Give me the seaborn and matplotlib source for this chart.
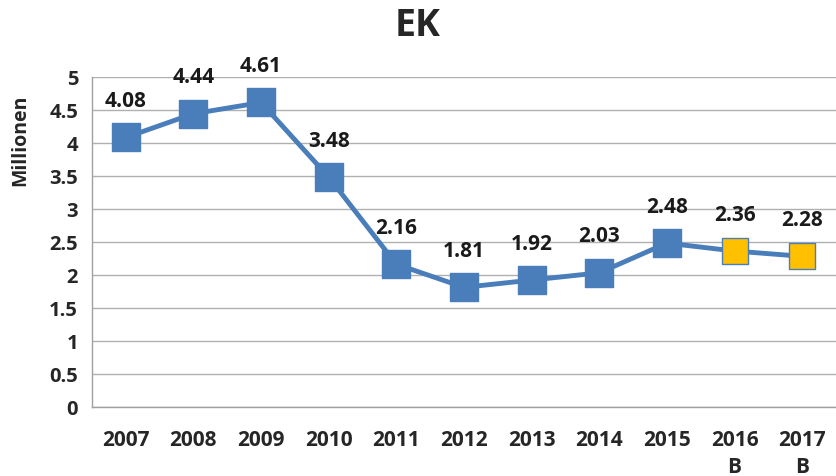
import numpy as np
import pandas as pd
import matplotlib
matplotlib.use('Agg')
import matplotlib.pyplot as plt
import seaborn as sns

# 数据
jahre = ['2007', '2008', '2009', '2010', '2011', '2012', '2013', '2014', '2015', '2016\nB', '2017\nB']
werte = [4.08, 4.44, 4.61, 3.48, 2.16, 1.81, 1.92, 2.03, 2.48, 2.36, 2.28]
prognose = [False, False, False, False, False, False, False, False, False, True, True]

sns.set_style('white')
plt.rcParams['font.family'] = ['Open Sans', 'DejaVu Sans']

df = pd.DataFrame({'x': np.arange(len(jahre)), 'wert': werte, 'prognose': prognose})

blau = '#4a7ebb'
gelb = '#ffc000'

fig = plt.figure(figsize=(8.36, 4.77), dpi=100)
ax = fig.add_axes([0.110, 0.145, 0.890, 0.692])

sns.lineplot(data=df, x='x', y='wert', color=blau, linewidth=3.5, ax=ax, zorder=2)
sns.scatterplot(data=df[~df['prognose']], x='x', y='wert', marker='s', s=380,
                color=blau, edgecolor=blau, linewidth=1, ax=ax, zorder=3)
sns.scatterplot(data=df[df['prognose']], x='x', y='wert', marker='s', s=330,
                color=gelb, edgecolor=blau, linewidth=1, ax=ax, zorder=3)

# 数值标签
for xi, v in zip(df['x'], werte):
    ax.annotate(f'{v:.2f}', (xi, v), xytext=(0, 19), textcoords='offset points',
                ha='center', va='bottom', fontsize=15, fontweight='bold', color='#1a1a1a')

ax.set_xlim(-0.5, len(jahre) - 0.5)
ax.set_ylim(0, 5)
ax.set_yticks(np.arange(0, 5.01, 0.5))
ax.set_yticklabels(['0', '0.5', '1', '1.5', '2', '2.5', '3', '3.5', '4', '4.5', '5'],
                   fontsize=14.5, fontweight='bold')
ax.set_xticks(df['x'])
ax.set_xticklabels(jahre, fontsize=15, fontweight='bold', linespacing=1.35)
ax.set_xticks(np.arange(-0.5, len(jahre)), minor=True)
ax.tick_params(axis='x', which='major', length=0, pad=16)
ax.tick_params(axis='x', which='minor', length=6, color='#a0a0a0', width=1)
ax.tick_params(axis='y', length=6, color='#a0a0a0', width=1, pad=4)

ax.grid(axis='y', color='#b0b0b0', linewidth=1)
ax.set_axisbelow(True)
for s in ['top', 'right']:
    ax.spines[s].set_visible(False)
for s in ['left', 'bottom']:
    ax.spines[s].set_color('#a0a0a0')
    ax.spines[s].set_linewidth(1)

ax.set_xlabel('')
ax.set_ylabel('Millionen', fontsize=14, fontweight='bold')
ax.yaxis.set_label_coords(-0.083, 0.81)
fig.suptitle('EK', fontsize=27, fontweight='bold', y=0.985)

fig.savefig('out.png', dpi=100)
